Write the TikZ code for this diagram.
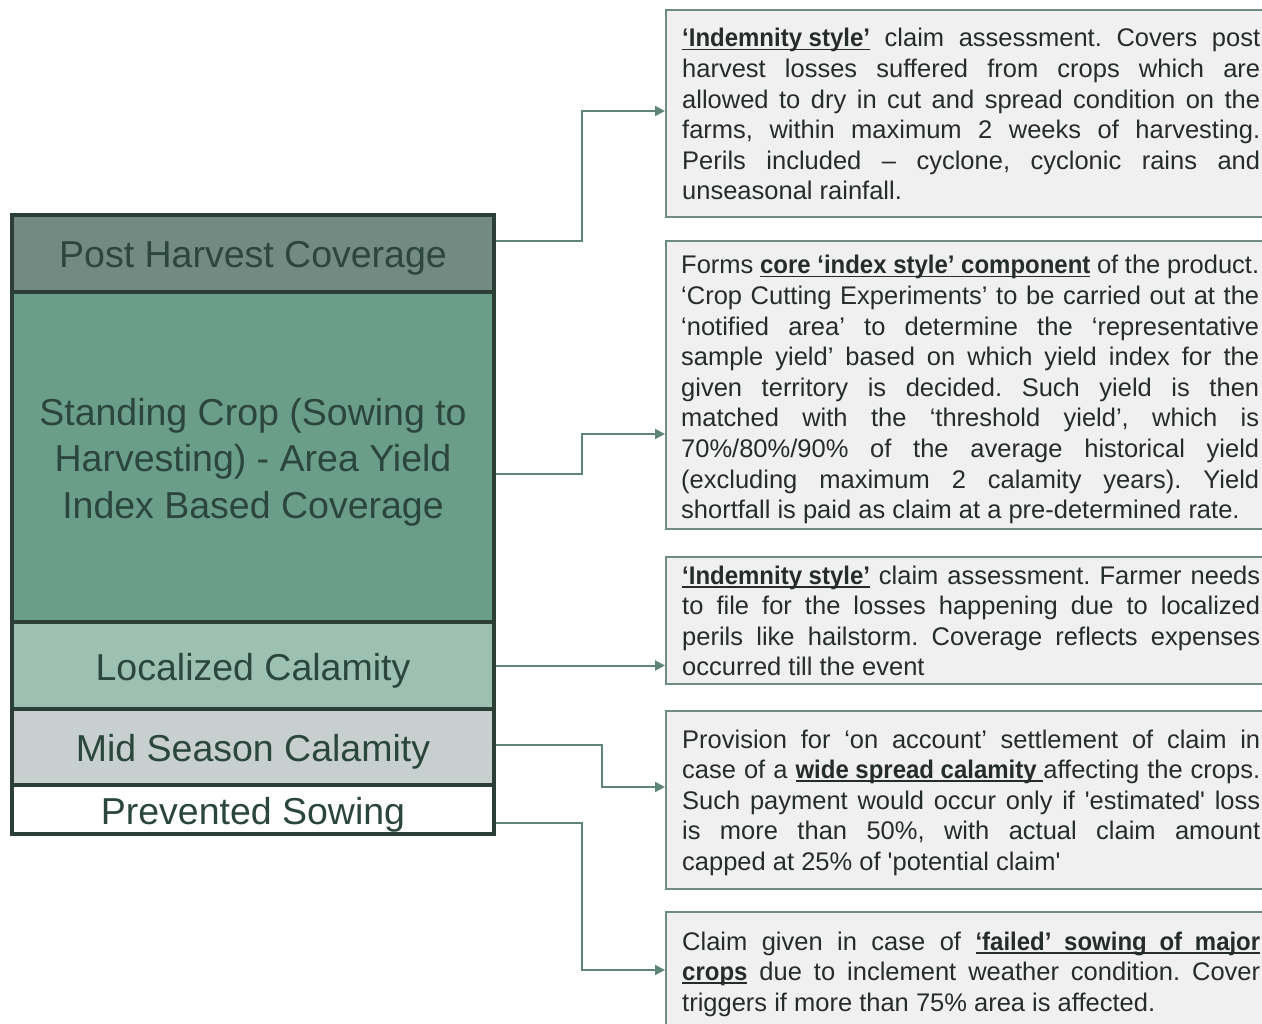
\documentclass[tikz,border=0pt]{standalone}
\usepackage{fontspec}
\setmainfont{Liberation Sans}[Ligatures=TeXOff, BoldFeatures={FakeStretch=0.94}]
\usetikzlibrary{arrows.meta}
\definecolor{phc}{HTML}{728A81}
\definecolor{scc}{HTML}{6A9E8A}
\definecolor{lcc}{HTML}{9CC0B2}
\definecolor{msc}{HTML}{C7D0CF}
\definecolor{bord}{HTML}{2B3F37}
\definecolor{ltxt}{HTML}{2B463C}
\definecolor{conc}{HTML}{5F847A}
\definecolor{boxb}{HTML}{6F8C84}
\definecolor{boxf}{HTML}{F0F0F0}
\definecolor{rtxt}{HTML}{262C29}
\newlength\tw \setlength\tw{578pt}
\newcommand\jl[1]{\hbox to\tw{#1}}
\newcommand\el[1]{\hbox{#1}}
\newcommand\ub[1]{\setbox0\hbox{\bfseries #1}\rlap{\rule[-3.5pt]{\wd0}{1.8pt}}\box0\relax}
\newcommand\rfont{\fontsize{25.5}{30.6}\selectfont\frenchspacing}
\tikzset{
  rowbox/.style={draw=bord, line width=3.5pt, minimum width=482pt, inner sep=0pt},
  rowtext/.style={inner sep=0pt, text=ltxt, font=\fontsize{37.5}{46.5}\selectfont, align=center},
  descbox/.style={draw=boxb, fill=boxf, line width=2pt, minimum width=700pt,
    anchor=north west, inner sep=0pt},
  desctext/.style={anchor=base west, inner sep=0pt, text=rtxt},
  conn/.style={draw=conc, line width=2pt, -{Triangle[length=10pt,width=10pt]}}
}
\begin{document}
\begin{tikzpicture}[x=1pt,y=-1pt]
\clip (0,0) rectangle (1262,1024);
\fill[white] (0,0) rectangle (1262,1024);

% left stack
\node[rowbox, fill=scc, minimum height=330pt] (sc) at (253,457) {};
\node[rowbox, fill=phc, minimum height=77pt] (ph) at (253,253.5) {};
\node[rowbox, fill=lcc, minimum height=87pt] (lc) at (253,665.5) {};
\node[rowbox, fill=msc, minimum height=76pt] (ms) at (253,747) {};
\node[rowbox, fill=white, minimum height=49pt] (ps) at (253,809.5) {};

\node[rowtext] (sct) at ([yshift=-5pt]sc.center)
  {Standing Crop (Sowing to\\Harvesting) - Area Yield\\Index Based Coverage};
\node[rowtext] (pht) at ([yshift=-5pt]ph.center) {Post Harvest Coverage};
\node[rowtext] (lct) at ([yshift=-5pt]lc.center) {Localized Calamity};
\node[rowtext] (mst) at ([yshift=-5pt]ms.center) {Mid Season Calamity};
\node[rowtext] (pst) at ([yshift=-5pt]ps.center) {Prevented Sowing};

% right boxes
\node[descbox, minimum height=207pt] (b1) at (665,9) {};
\node[descbox, minimum height=288pt] (b2) at (665,240) {};
\node[descbox, minimum height=127pt] (b3) at (665,556) {};
\node[descbox, minimum height=178pt] (b4) at (665,710) {};
\node[descbox, minimum height=190pt] (b5) at (665,911) {};

\node[desctext] (t1) at (682,47) {\vtop{\rfont
  \jl{\ub{‘Indemnity style’} claim assessment. Covers post}
  \jl{harvest losses suffered from crops which are}
  \jl{allowed to dry in cut and spread condition on the}
  \jl{farms, within maximum 2 weeks of harvesting.}
  \jl{Perils included – cyclone, cyclonic rains and}
  \el{unseasonal rainfall.}}};

\node[desctext] (t2) at (681,274) {\vtop{\rfont
  \jl{Forms \ub{core ‘index style’ component} of the product.}
  \jl{‘Crop Cutting Experiments’ to be carried out at the}
  \jl{‘notified area’ to determine the ‘representative}
  \jl{sample yield’ based on which yield index for the}
  \jl{given territory is decided. Such yield is then}
  \jl{matched with the ‘threshold yield’, which is}
  \jl{70\%/80\%/90\% of the average historical yield}
  \jl{(excluding maximum 2 calamity years). Yield}
  \el{shortfall is paid as claim at a pre-determined rate.}}};

\node[desctext] (t3) at (682,584) {\vtop{\rfont
  \jl{\ub{‘Indemnity style’} claim assessment. Farmer needs}
  \jl{to file for the losses happening due to localized}
  \jl{perils like hailstorm. Coverage reflects expenses}
  \el{occurred till the event}}};

\node[desctext] (t4) at (682,748) {\vtop{\rfont
  \jl{Provision for ‘on account’ settlement of claim in}
  \jl{case of a \ub{wide spread calamity }affecting the crops.}
  \jl{Such payment would occur only if 'estimated' loss}
  \jl{is more than 50\%, with actual claim amount}
  \el{capped at 25\% of 'potential claim'}}};

\node[desctext] (t5) at (682,950) {\vtop{\rfont
  \jl{Claim given in case of \ub{‘failed’\hskip 0.5em sowing\hskip 0.5em of\hskip 0.5em major}}
  \jl{\ub{crops} due to inclement weather condition. Cover}
  \el{triggers if more than 75\% area is affected.}}};

% connectors
\draw[conn] ([yshift=12.5pt]ph.east) -- ++(86,0) |- ([yshift=2.5pt]b1.west);
\draw[conn] ([yshift=-17pt]sc.east) -- ++(86,0) |- ([yshift=-49pt]b2.west);
\draw[conn] (lc.east) -- (lc.east -| b3.west);
\draw[conn] ([yshift=2pt]ms.east) -- ++(106,0) |- ([yshift=13pt]b4.west);
\draw[conn] ([yshift=-13.5pt]ps.east) -- ++(86,0) |- ([yshift=37pt]b5.west);
\end{tikzpicture}
\end{document}
